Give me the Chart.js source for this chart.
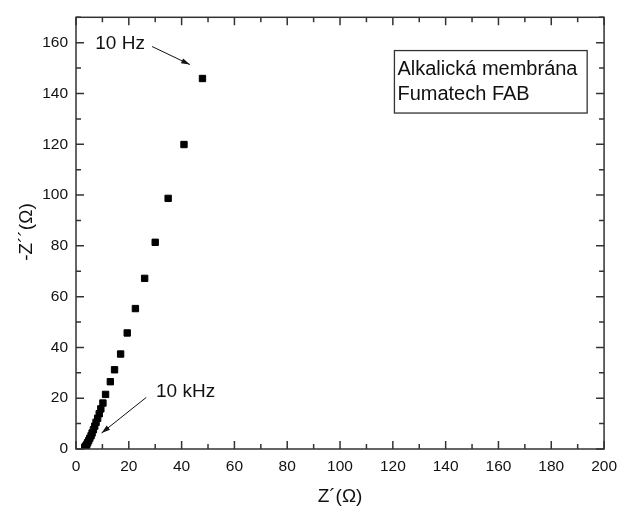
<!DOCTYPE html>
<html>
<head>
<meta charset="utf-8">
<script src="https://cdn.jsdelivr.net/npm/chart.js@4/dist/chart.umd.min.js"></script>
<style>
    html, body { margin: 0; padding: 0; background: #fff; }
    #wrap { width: 625px; height: 512px; }
</style>
</head>
<body>
<div id="wrap"><canvas id="nyquistChart" width="625" height="512"></canvas></div>
<script>
// Z' (ohm) and -Z'' (ohm), 10 Hz first down to 10 kHz
const zReal = [47.9, 40.9, 34.9, 30.0, 26.0, 22.5, 19.4, 16.9, 14.6, 13.0, 11.2, 10.2,
               9.4, 8.8, 8.2, 7.6, 7.1, 6.6, 6.1, 5.7, 5.2, 4.8, 4.4, 4.1, 3.8, 3.5, 3.3];
const zImag = [145.9, 119.9, 98.7, 81.4, 67.2, 55.3, 45.7, 37.4, 31.2, 26.5, 21.5, 18.1,
               15.8, 13.9, 12.1, 10.5, 9.0, 7.6, 6.3, 5.2, 4.2, 3.3, 2.5, 1.8, 1.3, 0.9, 0.6];
const xTicks = [0, 20, 40, 60, 80, 100, 120, 140, 160, 180, 200];
const yTicks = [0, 20, 40, 60, 80, 100, 120, 140, 160];
const legendLines = ['Alkalická membrána', 'Fumatech FAB'];

const font = 'Liberation Sans, Arial, sans-serif';
const ink = '#111';

const points = zReal.map((x, i) => ({ x: x, y: zImag[i] }));

function arrow(ctx, x1, y1, x2, y2) {
    const a = Math.atan2(y2 - y1, x2 - x1);
    ctx.beginPath();
    ctx.moveTo(x1, y1);
    ctx.lineTo(x2, y2);
    ctx.stroke();
    ctx.beginPath();
    ctx.moveTo(x2, y2);
    ctx.lineTo(x2 - 9 * Math.cos(a - 0.3), y2 - 9 * Math.sin(a - 0.3));
    ctx.lineTo(x2 - 9 * Math.cos(a + 0.3), y2 - 9 * Math.sin(a + 0.3));
    ctx.closePath();
    ctx.fill();
}

const framePlugin = {
    id: 'frame',
    afterDraw(chart) {
        const ctx = chart.ctx;
        const a = chart.chartArea;
        const xs = chart.scales.x, ys = chart.scales.y;
        ctx.save();
        ctx.strokeStyle = '#333';
        ctx.fillStyle = ink;
        ctx.lineWidth = 1.5;
        ctx.strokeRect(a.left, a.top, a.right - a.left, a.bottom - a.top);

        // inward ticks on all four sides, majors from the tick arrays, minors halfway
        ctx.beginPath();
        for (let v = xs.min; v <= xs.max; v += 10) {
            const px = xs.getPixelForValue(v);
            const len = xTicks.includes(v) ? 8 : 5;
            ctx.moveTo(px, a.bottom); ctx.lineTo(px, a.bottom - len);
            ctx.moveTo(px, a.top); ctx.lineTo(px, a.top + len);
        }
        for (let v = 0; v <= ys.max; v += 10) {
            const py = ys.getPixelForValue(v);
            const len = yTicks.includes(v) ? 8 : 5;
            ctx.moveTo(a.left, py); ctx.lineTo(a.left + len, py);
            ctx.moveTo(a.right, py); ctx.lineTo(a.right - len, py);
        }
        ctx.stroke();

        // axis titles
        ctx.font = '19px ' + font;
        ctx.textAlign = 'center';
        ctx.textBaseline = 'middle';
        ctx.fillText('Z\u00b4(\u03a9)', (a.left + a.right) / 2, 497);
        ctx.save();
        ctx.translate(27, 232);
        ctx.rotate(-Math.PI / 2);
        ctx.fillText('-Z\u00b4\u00b4(\u03a9)', 0, 0);
        ctx.restore();

        // frequency labels with arrows
        ctx.textAlign = 'left';
        ctx.fillText('10 Hz', xs.getPixelForValue(7.3), ys.getPixelForValue(159.5));
        ctx.fillText('10 kHz', xs.getPixelForValue(30.3), ys.getPixelForValue(22.5));
        ctx.lineWidth = 1;
        ctx.strokeStyle = ink;
        arrow(ctx, xs.getPixelForValue(28.8), ys.getPixelForValue(158.5),
                   xs.getPixelForValue(43.1), ys.getPixelForValue(151.4));
        arrow(ctx, xs.getPixelForValue(26.6), ys.getPixelForValue(20.3),
                   xs.getPixelForValue(9.7), ys.getPixelForValue(6.3));

        // text box
        const bx1 = xs.getPixelForValue(120.6), bx2 = xs.getPixelForValue(193.6);
        const by1 = ys.getPixelForValue(156.9), by2 = ys.getPixelForValue(132.3);
        ctx.lineWidth = 1.3;
        ctx.strokeStyle = '#333';
        ctx.strokeRect(bx1, by1, bx2 - bx1, by2 - by1);
        ctx.font = '20px ' + font;
        legendLines.forEach((t, i) => {
            ctx.fillText(t, bx1 + 3, by1 + 19 + i * 25);
        });
        ctx.restore();
    }
};

const nyquistChart = new Chart(document.getElementById('nyquistChart').getContext('2d'), {
    type: 'scatter',
    data: {
        datasets: [{
            data: points,
            pointStyle: 'rect',
            pointRadius: 4.5,
            borderWidth: 1,
            backgroundColor: '#000',
            borderColor: '#000'
        }]
    },
    options: {
        responsive: false,
        animation: false,
        layout: { padding: { top: 14, right: 15, left: 0, bottom: 0 } },
        plugins: { legend: { display: false }, tooltip: { enabled: false } },
        scales: {
            x: {
                min: 0,
                max: 200,
                grid: { display: false, drawTicks: false },
                border: { display: false },
                afterBuildTicks: s => { s.ticks = xTicks.map(v => ({ value: v })); },
                afterFit: s => { s.height = 63; },
                ticks: { color: ink, padding: 8, maxRotation: 0, font: { family: font, size: 15.5 } }
            },
            y: {
                min: 0,
                max: 170,
                grid: { display: false, drawTicks: false },
                border: { display: false },
                afterBuildTicks: s => { s.ticks = yTicks.map(v => ({ value: v })); },
                afterFit: s => { s.width = 76; },
                ticks: { color: ink, padding: 8, font: { family: font, size: 15.5 } }
            }
        }
    },
    plugins: [framePlugin]
});
</script>
</body>
</html>
